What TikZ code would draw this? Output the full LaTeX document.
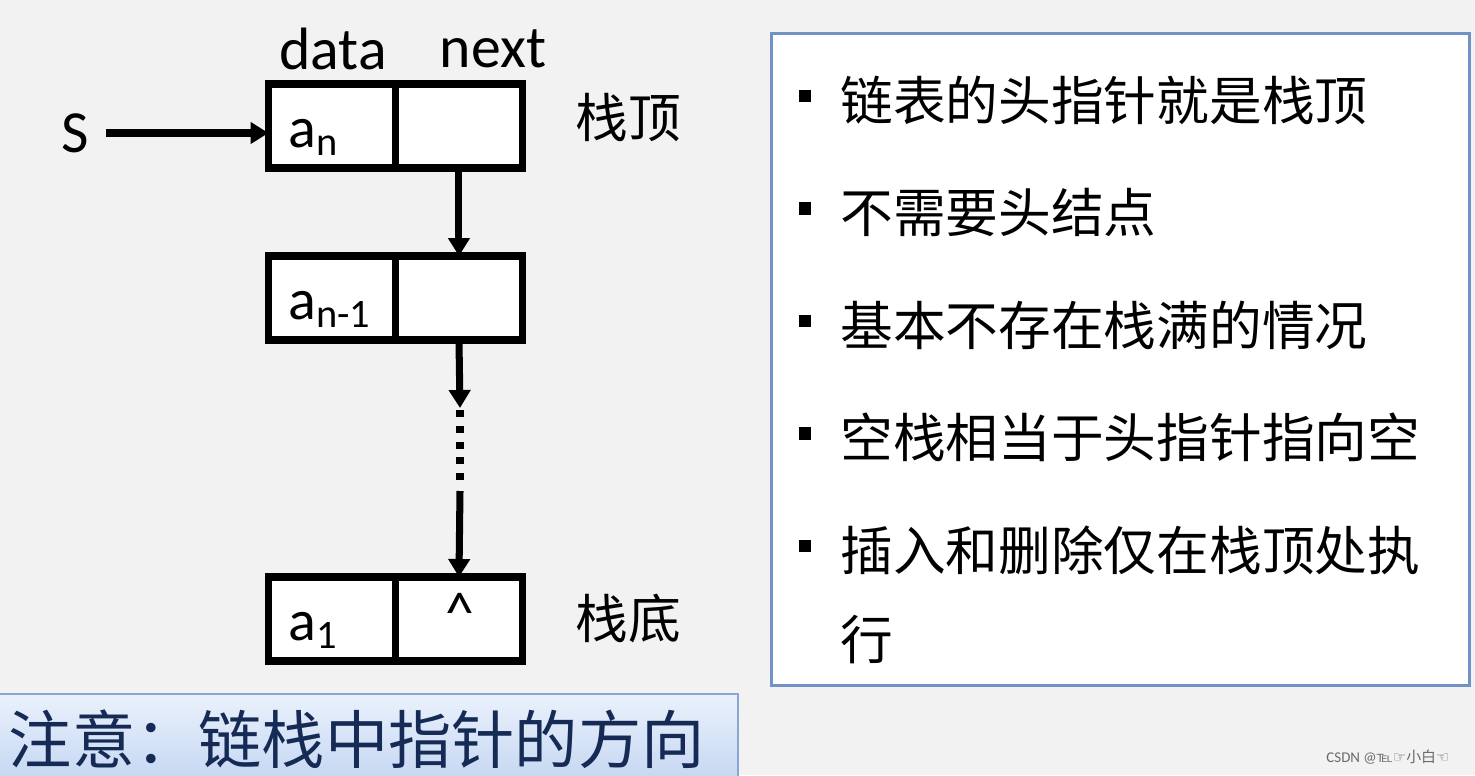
\documentclass[tikz,border=0pt]{standalone}
\usepackage{fontspec}
\setmainfont{Carlito}
\newfontfamily\cjk{Noto Sans CJK SC}
\newfontfamily\symfont{DejaVu Sans}
\usetikzlibrary{
  arrows.meta,
  positioning
}
\definecolor{bggray}{RGB}{242,242,242}
\definecolor{panelblue}{RGB}{112,146,196}
\definecolor{bannertop}{RGB}{234,241,252}
\definecolor{bannerbot}{RGB}{196,214,242}
\definecolor{bannerline}{RGB}{138,166,212}
\definecolor{navy}{RGB}{22,42,86}
\definecolor{markgray}{RGB}{105,105,105}
\newcommand{\lowsub}[1]{\raisebox{-0.32ex}{\fontsize{23}{26}\selectfont #1}}

\begin{document}
\begin{tikzpicture}[x=0.02cm, y=-0.02cm,
  cell/.style={draw=black, fill=white, line width=4.3pt, minimum width=2.54cm, minimum height=1.68cm, inner sep=0pt, outer sep=0pt},
  lbl/.style={inner sep=0pt, font=\fontsize{34}{40}\selectfont},
  val/.style={inner sep=0pt, font=\fontsize{33}{40}\selectfont},
  zh/.style={inner sep=0pt, font=\cjk\fontsize{30}{36}\selectfont},
  ptr/.style={line width=4pt, -{Triangle[length=0.36cm, width=0.42cm]}},
  gap/.style={line width=4.6pt, dash pattern=on 4pt off 5pt},
  bul/.style={fill=black, minimum size=0.25cm, inner sep=0pt},
  panel/.style={draw=panelblue, fill=white, line width=1.8pt, minimum width=13.95cm, minimum height=13.03cm, inner sep=0pt},
  banner/.style={draw=bannerline, line width=1pt, top color=bannertop, bottom color=bannerbot, minimum width=14.78cm, minimum height=1.8cm, text width=14.38cm, inner xsep=0.2cm, align=left, text=navy, font=\cjk\fontsize{36}{40}\selectfont},
  wmark/.style={inner sep=0pt, text=markgray, font=\fontsize{8.5}{10}\selectfont}
]
  \useasboundingbox (0,0) rectangle (1475,775);
  \fill[bggray] (0,0) rectangle (1475,775);

  % stack nodes
  \node[cell] (an) at (332,126) {};
  \node[cell, right=0pt of an] (anx) {};
  \node[cell] (an1) at (332,298) {};
  \node[cell, right=0pt of an1] (an1x) {};
  \node[cell] (a1) at (332,619) {};
  \node[cell, right=0pt of a1] (a1x) {};

  \node[val, anchor=base west] (van) at (288,147) {a\lowsub{n}};
  \node[val, anchor=base west] (van1) at (288,319) {a\lowsub{n-1}};
  \node[val, anchor=base west] (va1) at (288,640) {a\lowsub{1}};
  \node[val] (nil) at (460,613) {\^{}};

  \node[lbl] (lblData) at (333,49) {data};
  \node[lbl] (lblNext) at (493,49) {next};
  \node[lbl] (S) at (75,133) {S};
  \node[zh] (lblTop) at (628,118) {栈顶};
  \node[zh] (lblBot) at (628,618) {栈底};

  \coordinate (gapTop) at (460,408);
  \coordinate (gapBot) at (460,491);

  \draw[ptr, shorten <=0.34cm] (S.east) -- (S.east -| an.west);
  \draw[ptr] (anx.south) -- (an1x.north);
  \draw[ptr] (an1x.south) -- (gapTop);
  \draw[gap] ([yshift=-0.04cm]gapTop) -- ([yshift=0.18cm]gapBot);
  \draw[ptr] (gapBot) -- (a1x.north);

  % notes on the right
  \node[panel] (tips) at (1120.5,359.5) {};
  \foreach \t [count=\i] in {链表的头指针就是栈顶, 不需要头结点, 基本不存在栈满的情况, 空栈相当于头指针指向空, 插入和删除仅在栈顶处执}{
    \node[bul] (b\i) at (805,{96+112.5*(\i-1)}) {};
    \node[zh, anchor=west] (t\i) at (840,{100+112.5*(\i-1)}) {\t};
  }
  \node[zh, anchor=west] (t6) at (840,640) {行};

  % banner
  \node[banner, anchor=north west] (note) at (-2,693) {注意：链栈中指针的方向};

  \node[wmark] (mark) at (1388,757) {CSDN @{\symfont ℡☞}{\cjk 小白}{\symfont ☜}};
\end{tikzpicture}
\end{document}
